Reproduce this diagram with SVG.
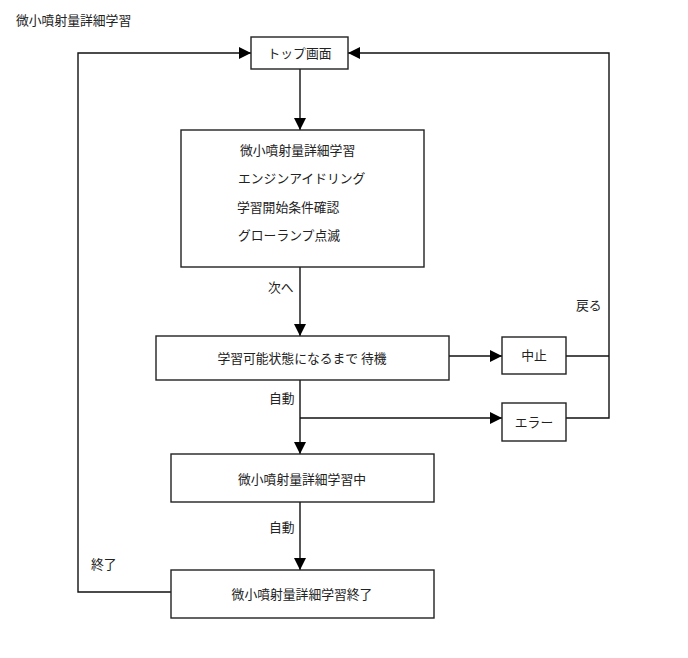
<svg xmlns="http://www.w3.org/2000/svg" width="688" height="658" viewBox="0 0 688 658">
<defs>
<marker id="arr" viewBox="0 0 12 12" refX="12" refY="6" markerWidth="12" markerHeight="12" markerUnits="userSpaceOnUse" orient="auto">
<path d="M0,0 L12,6 L0,12 Z" fill="#000"/>
</marker>
<style>
.box{fill:#fff;stroke:#222;stroke-width:1.4}
.ln{fill:none;stroke:#111;stroke-width:1.4}
.t{font-family:"Noto Sans CJK JP","Noto Sans CJK SC",sans-serif;font-size:12.8px;fill:#222}
.c{text-anchor:middle}
</style>
</defs>
<rect width="688" height="658" fill="#fff"/>
<text class="t" x="16" y="25">微小噴射量詳細学習</text>
<g id="connectors">
<path class="ln" d="M171,592 H78 V53 H251" marker-end="url(#arr)"/>
<path class="ln" d="M566,418 H609 V53 H348" marker-end="url(#arr)"/>
<path class="ln" d="M566,356 H609"/>
<path class="ln" d="M300,69 V130" marker-end="url(#arr)"/>
<path class="ln" d="M300,267 V336" marker-end="url(#arr)"/>
<path class="ln" d="M449,356 H502" marker-end="url(#arr)"/>
<path class="ln" d="M300,380 V454" marker-end="url(#arr)"/>
<path class="ln" d="M300,418 H502" marker-end="url(#arr)"/>
<path class="ln" d="M300,502 V570" marker-end="url(#arr)"/>
<text class="t" x="268" y="292">次へ</text>
<text class="t" x="576" y="310">戻る</text>
<text class="t" x="269" y="403">自動</text>
<text class="t" x="269" y="532">自動</text>
<text class="t" x="91" y="569">終了</text>
</g>
<g id="top">
<rect class="box" x="251" y="37" width="97" height="32"/>
<text class="t c" x="299.5" y="58">トップ画面</text>
</g>
<g id="detail">
<rect class="box" x="181" y="130" width="243" height="137"/>
<text class="t" x="240" y="155">微小噴射量詳細学習</text>
<text class="t" x="238" y="183">エンジンアイドリング</text>
<text class="t" x="237" y="212">学習開始条件確認</text>
<text class="t" x="238" y="240">グローランプ点滅</text>
</g>
<g id="wait">
<rect class="box" x="156" y="336" width="293" height="44"/>
<text class="t c" x="302" y="363">学習可能状態になるまで 待機</text>
</g>
<g id="stop">
<rect class="box" x="502" y="337" width="64" height="37"/>
<text class="t c" x="534" y="360">中止</text>
</g>
<g id="error">
<rect class="box" x="502" y="403" width="64" height="38"/>
<text class="t c" x="534" y="427">エラー</text>
</g>
<g id="learning">
<rect class="box" x="171" y="454" width="263" height="48"/>
<text class="t c" x="302" y="484">微小噴射量詳細学習中</text>
</g>
<g id="finish">
<rect class="box" x="171" y="570" width="263" height="48"/>
<text class="t c" x="302" y="599">微小噴射量詳細学習終了</text>
</g>
</svg>
